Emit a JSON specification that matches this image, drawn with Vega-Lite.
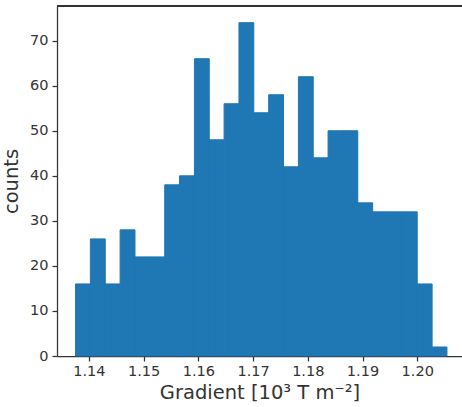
{
  "$schema": "https://vega.github.io/schema/vega-lite/v6.json",
  "autosize": "none",
  "width": 405,
  "height": 350,
  "padding": {"left": 57, "top": 6, "right": 0, "bottom": 51},
  "background": "white",
  "config": {
    "view": {"stroke": null},
    "font": "DejaVu Sans",
    "axis": {
      "domainColor": "#333333",
      "domainWidth": 1.25,
      "tickColor": "#333333",
      "tickWidth": 1.25,
      "tickSize": 5,
      "labelColor": "#333333",
      "labelFont": "DejaVu Sans",
      "labelFontSize": 14.5,
      "titleFont": "DejaVu Sans",
      "titleFontSize": 19.5,
      "titleFontWeight": "normal",
      "titleColor": "#333333",
      "grid": false
    }
  },
  "data": {
    "values": [
      {"start": 1.13757, "end": 1.14028, "count": 16},
      {"start": 1.14028, "end": 1.14300, "count": 26},
      {"start": 1.14300, "end": 1.14571, "count": 16},
      {"start": 1.14571, "end": 1.14843, "count": 28},
      {"start": 1.14843, "end": 1.15114, "count": 22},
      {"start": 1.15114, "end": 1.15386, "count": 22},
      {"start": 1.15386, "end": 1.15657, "count": 38},
      {"start": 1.15657, "end": 1.15929, "count": 40},
      {"start": 1.15929, "end": 1.16200, "count": 66},
      {"start": 1.16200, "end": 1.16471, "count": 48},
      {"start": 1.16471, "end": 1.16743, "count": 56},
      {"start": 1.16743, "end": 1.17014, "count": 74},
      {"start": 1.17014, "end": 1.17286, "count": 54},
      {"start": 1.17286, "end": 1.17557, "count": 58},
      {"start": 1.17557, "end": 1.17829, "count": 42},
      {"start": 1.17829, "end": 1.18100, "count": 62},
      {"start": 1.18100, "end": 1.18371, "count": 44},
      {"start": 1.18371, "end": 1.18643, "count": 50},
      {"start": 1.18643, "end": 1.18914, "count": 50},
      {"start": 1.18914, "end": 1.19186, "count": 34},
      {"start": 1.19186, "end": 1.19457, "count": 32},
      {"start": 1.19457, "end": 1.19729, "count": 32},
      {"start": 1.19729, "end": 1.20000, "count": 32},
      {"start": 1.20000, "end": 1.20272, "count": 16},
      {"start": 1.20272, "end": 1.20543, "count": 2}
    ]
  },
  "layer": [
    {
      "mark": {"type": "rect", "color": "#1f77b4", "stroke": "#1f77b4", "strokeWidth": 1},
      "encoding": {
        "x": {
          "field": "start",
          "type": "quantitative",
          "scale": {"domain": [1.13418, 1.20818], "nice": false, "zero": false},
          "axis": {
            "values": [1.14, 1.15, 1.16, 1.17, 1.18, 1.19, 1.20],
            "format": ".2f",
            "labelFlush": false,
            "labelPadding": 3,
            "title": "Gradient [10³ T m⁻²]",
            "titlePadding": 6
          }
        },
        "x2": {"field": "end"},
        "y": {
          "field": "count",
          "type": "quantitative",
          "scale": {"domain": [0, 77.7], "nice": false},
          "axis": {
            "values": [0, 10, 20, 30, 40, 50, 60, 70],
            "labelPadding": 4,
            "title": "counts",
            "titlePadding": 8
          }
        },
        "y2": {"datum": 0}
      }
    },
    {
      "mark": {"type": "rule", "color": "#333333", "strokeWidth": 1.25},
      "encoding": {
        "y": {"datum": 77.7, "type": "quantitative"}
      }
    }
  ]
}
